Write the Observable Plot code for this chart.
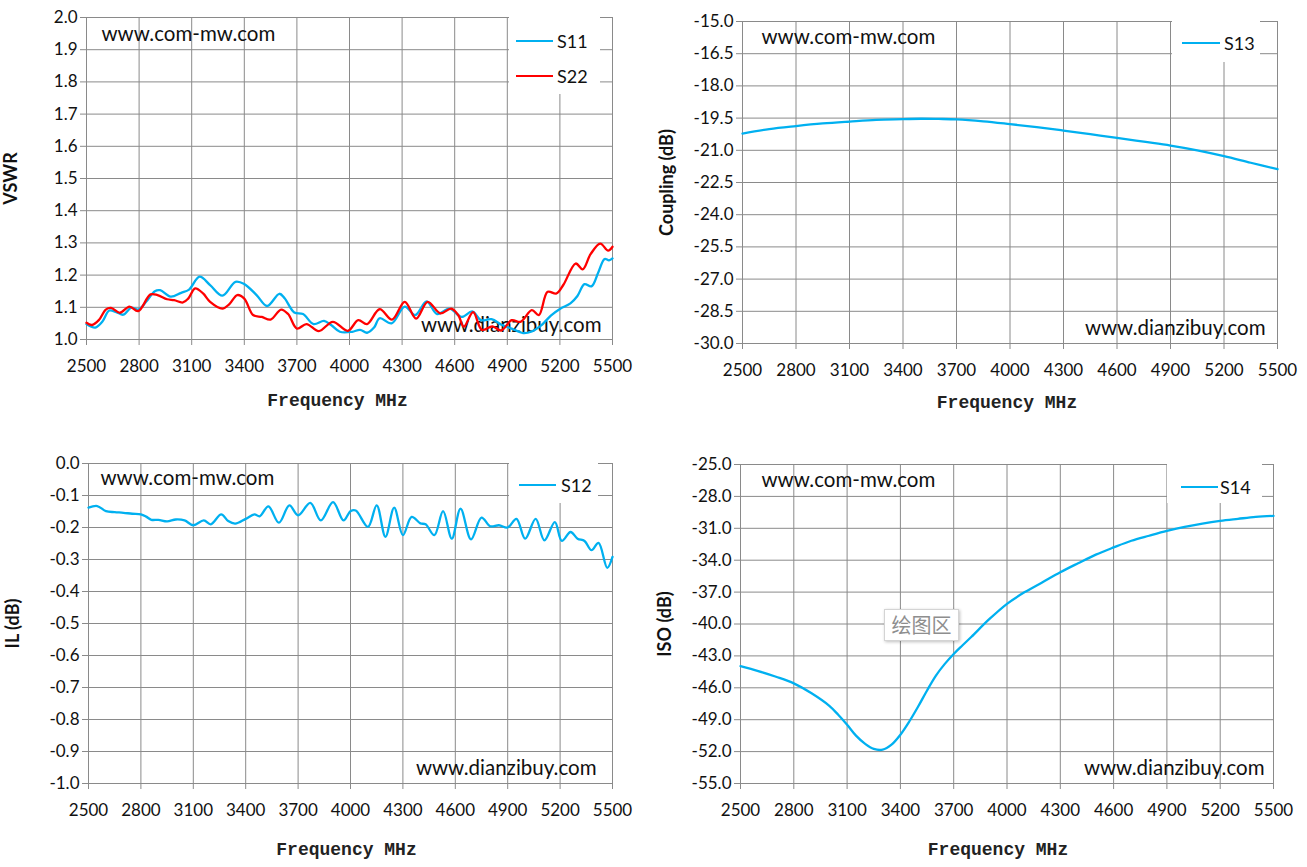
<!DOCTYPE html>
<html>
<head>
<meta charset="utf-8">
<script src="https://cdn.jsdelivr.net/npm/d3@7"></script>
<script src="https://cdn.jsdelivr.net/npm/@observablehq/plot@0.6"></script>
<style>
  html, body { margin: 0; padding: 0; background: #fff; }
  #page { position: relative; width: 1307px; height: 867px; overflow: hidden; background: #fff; font-family: Lato, "Open Sans", sans-serif; }
  .panel { position: absolute; }
  .legend { position: absolute; background: #fff; }
  .legend .sw { position: absolute; height: 2.4px; }
  .legend .lab { position: absolute; font-family: Lato, sans-serif; font-size: 18px; color: #111; line-height: 20px; }
  #tip { position: absolute; left: 884px; top: 609px; width: 73px; height: 30px; background: #fff; border: 1px solid #d4d4d4; box-shadow: 1px 1px 3px rgba(0,0,0,0.25); font-family: "Noto Sans CJK SC", sans-serif; font-size: 20px; color: #8e8e8e; line-height: 30px; text-align: center; }
</style>
</head>
<body>
<div id="page"></div>
<script>
// ---------- data ----------
const xTicks = [2500, 2800, 3100, 3400, 3700, 4000, 4300, 4600, 4900, 5200, 5500];
const vswrTicks = [1.0, 1.1, 1.2, 1.3, 1.4, 1.5, 1.6, 1.7, 1.8, 1.9, 2.0];
const couplingTicks = [-30.0, -28.5, -27.0, -25.5, -24.0, -22.5, -21.0, -19.5, -18.0, -16.5, -15.0];
const ilTicks = [-1.0, -0.9, -0.8, -0.7, -0.6, -0.5, -0.4, -0.3, -0.2, -0.1, 0.0];
const isoTicks = [-55.0, -52.0, -49.0, -46.0, -43.0, -40.0, -37.0, -34.0, -31.0, -28.0, -25.0];

const s11Freq = [2500,2550,2590,2630,2670,2710,2755,2795,2840,2890,2920,2980,3040,3085,3145,3205,3275,3350,3400,3470,3530,3600,3630,3685,3735,3795,3855,3895,3945,4015,4060,4100,4140,4172,4240,4315,4375,4440,4500,4570,4640,4700,4750,4810,4870,4925,4990,5040,5090,5150,5200,5260,5300,5340,5380,5420,5455,5480,5500];
const s11Vswr = [1.048,1.037,1.055,1.090,1.085,1.077,1.099,1.093,1.117,1.150,1.153,1.133,1.145,1.155,1.195,1.169,1.136,1.179,1.172,1.138,1.104,1.142,1.128,1.084,1.079,1.048,1.058,1.045,1.024,1.024,1.030,1.021,1.037,1.066,1.050,1.102,1.076,1.118,1.079,1.096,1.070,1.087,1.060,1.063,1.045,1.034,1.020,1.025,1.042,1.075,1.095,1.112,1.135,1.172,1.165,1.210,1.250,1.246,1.252];

const s22Freq = [2500,2530,2570,2610,2640,2690,2745,2795,2865,2905,2960,3000,3050,3080,3120,3165,3205,3275,3315,3360,3400,3450,3500,3550,3610,3650,3700,3755,3825,3905,3990,4050,4100,4172,4243,4315,4380,4446,4518,4580,4620,4652,4705,4755,4815,4865,4925,4975,5040,5080,5130,5180,5220,5290,5330,5375,5430,5475,5500];
const s22Vswr = [1.052,1.045,1.060,1.093,1.098,1.083,1.102,1.088,1.140,1.138,1.125,1.122,1.115,1.127,1.159,1.143,1.117,1.096,1.110,1.138,1.127,1.076,1.070,1.062,1.093,1.079,1.034,1.048,1.026,1.055,1.027,1.060,1.048,1.094,1.062,1.117,1.065,1.117,1.081,1.096,1.076,1.040,1.085,1.030,1.041,1.028,1.060,1.055,1.091,1.076,1.148,1.143,1.170,1.236,1.218,1.265,1.298,1.276,1.288];

const s13Freq = [2500,2650,2800,2950,3100,3250,3400,3500,3600,3700,3850,4000,4150,4300,4450,4600,4750,4900,5050,5200,5350,5500];
const s13Coupling = [-20.22,-20.01,-19.87,-19.75,-19.66,-19.58,-19.55,-19.53,-19.54,-19.56,-19.65,-19.78,-19.92,-20.08,-20.25,-20.42,-20.60,-20.78,-21.00,-21.27,-21.58,-21.88];

const s12Freq = [2500,2550,2600,2650,2700,2750,2800,2830,2860,2900,2950,3000,3050,3100,3160,3200,3260,3300,3340,3400,3450,3480,3530,3590,3650,3700,3770,3830,3900,3960,4000,4030,4100,4150,4200,4250,4300,4350,4400,4430,4480,4530,4580,4630,4690,4750,4800,4850,4900,4950,5000,5060,5110,5170,5210,5260,5300,5340,5380,5420,5470,5500];
const s12IL = [-0.138,-0.133,-0.149,-0.152,-0.154,-0.157,-0.159,-0.166,-0.176,-0.176,-0.181,-0.175,-0.178,-0.193,-0.178,-0.190,-0.159,-0.180,-0.188,-0.173,-0.159,-0.165,-0.134,-0.185,-0.131,-0.162,-0.123,-0.178,-0.121,-0.178,-0.149,-0.147,-0.198,-0.131,-0.229,-0.138,-0.224,-0.167,-0.187,-0.190,-0.224,-0.149,-0.235,-0.141,-0.237,-0.169,-0.196,-0.193,-0.200,-0.173,-0.235,-0.173,-0.240,-0.183,-0.242,-0.214,-0.235,-0.242,-0.271,-0.248,-0.326,-0.292];

const s14Freq = [2500,2600,2700,2800,2900,3000,3050,3100,3150,3200,3250,3300,3350,3400,3450,3500,3550,3600,3650,3700,3750,3800,3900,4000,4100,4200,4300,4400,4500,4600,4700,4800,4900,5000,5100,5200,5300,5400,5500];
const s14Iso = [-43.96,-44.43,-44.96,-45.58,-46.52,-47.70,-48.54,-49.48,-50.50,-51.25,-51.75,-51.82,-51.35,-50.41,-49.17,-47.76,-46.25,-44.85,-43.75,-42.82,-42.00,-41.20,-39.55,-38.10,-37.00,-36.07,-35.13,-34.29,-33.48,-32.80,-32.17,-31.70,-31.25,-30.86,-30.55,-30.30,-30.11,-29.93,-29.83];

const sites = ["www.com-mw.com", "www.dianzibuy.com"];
const xTitle = "Frequency MHz";

// ---------- helpers ----------
const BLUE = "#00B0F0", RED = "#FF0000", GRID = "#8a8a8a";
const toRows = (fs, vs, name) => fs.map((f, i) => ({f, v: vs[i], name}));
const fmt1 = d => d.toFixed(1);

function panel(cfg) {
  const {w, h, ml, mr, mt, mb, yDomain, yTicks, yLabel, series, wm, xdx, xdy} = cfg;
  const marks = [
    Plot.gridY(yTicks, {stroke: GRID, strokeOpacity: 1, strokeWidth: 1}),
    Plot.gridX(xTicks, {stroke: GRID, strokeOpacity: 1, strokeWidth: 1}),
    Plot.axisY(yTicks, {tickFormat: fmt1, tickSize: 6, tickPadding: 3, stroke: GRID, fill: "#111", fontSize: 17, label: null}),
    Plot.axisX(xTicks, {tickFormat: d => String(d), tickSize: 6, tickPadding: 14, stroke: GRID, fill: "#111", fontSize: 17, label: null}),
    Plot.text([sites[0]], {frameAnchor: "top-left", textAnchor: "start", lineAnchor: "middle", dx: wm[0], dy: wm[1], fontSize: 20.5, fill: "#111"}),
    Plot.text([sites[1]], {frameAnchor: "bottom-right", textAnchor: "end", lineAnchor: "middle", dx: wm[2], dy: wm[3], fontSize: 20.5, fill: "#111"}),
    Plot.text([yLabel], {frameAnchor: "left", rotate: -90, dx: -75, fontWeight: "bold", fontSize: 18, fill: "#111", textAnchor: "middle", lineAnchor: "middle"}),
    Plot.text([xTitle], {frameAnchor: "bottom", dx: xdx, dy: xdy, lineAnchor: "middle", fontFamily: "'Liberation Mono', monospace", fontWeight: "bold", fontSize: 18, fill: "#222"})
  ];
  for (const s of series) {
    marks.push(Plot.line(s.rows, {x: "f", y: "v", stroke: s.color, strokeWidth: 2.3, curve: "catmull-rom"}));
  }
  return Plot.plot({
    width: w, height: h,
    marginLeft: ml, marginRight: mr, marginTop: mt, marginBottom: mb,
    x: {domain: [2500, 5500]},
    y: {domain: yDomain},
    style: {fontFamily: "Lato, 'Open Sans', sans-serif", fontSize: "17px", background: "transparent", overflow: "visible", color: "#111"},
    marks
  });
}

const page = document.getElementById("page");
function place(el, left, top) {
  const d = document.createElement("div");
  d.className = "panel";
  d.style.left = left + "px"; d.style.top = top + "px";
  d.appendChild(el);
  page.appendChild(d);
}
function legend(box, items) {
  const d = document.createElement("div");
  d.className = "legend";
  d.style.left = box[0] + "px"; d.style.top = box[1] + "px";
  d.style.width = (box[2] - box[0]) + "px"; d.style.height = (box[3] - box[1]) + "px";
  for (const it of items) {
    const sw = document.createElement("div");
    sw.className = "sw";
    sw.style.left = (it.x0 - box[0]) + "px"; sw.style.width = (it.x1 - it.x0) + "px";
    sw.style.top = (it.y - box[1] - 1.2) + "px"; sw.style.background = it.color;
    const lab = document.createElement("div");
    lab.className = "lab";
    lab.textContent = it.name;
    lab.style.left = (it.tx - box[0]) + "px"; lab.style.top = (it.y - box[1] - 10) + "px";
    d.appendChild(sw); d.appendChild(lab);
  }
  page.appendChild(d);
}

// Panel 1: VSWR
place(panel({
  w: 650, h: 430, ml: 86, mr: 38, mt: 17, mb: 91,
  yDomain: [1.0, 2.0], yTicks: vswrTicks, yLabel: "VSWR",
  series: [{rows: toRows(s11Freq, s11Vswr, "S11"), color: BLUE}, {rows: toRows(s22Freq, s22Vswr, "S22"), color: RED}],
  wm: [15, 17, -11, -14], xdx: -12, xdy: 61
}), 0, 0);
legend([509, 17, 600, 94], [
  {name: "S11", color: BLUE, x0: 516, x1: 553, tx: 557, y: 41},
  {name: "S22", color: RED, x0: 516, x1: 553, tx: 557, y: 76}
]);

// Panel 2: Coupling
place(panel({
  w: 657, h: 430, ml: 92, mr: 30, mt: 21, mb: 87,
  yDomain: [-30, -15], yTicks: couplingTicks, yLabel: "Coupling (dB)",
  series: [{rows: toRows(s13Freq, s13Coupling, "S13"), color: BLUE}],
  wm: [19, 16, -12, -15], xdx: -3, xdy: 59
}), 650, 0);
legend([1172, 21, 1260, 62], [
  {name: "S13", color: BLUE, x0: 1182, x1: 1220, tx: 1224, y: 43}
]);

// Panel 3: IL
place(panel({
  w: 650, h: 437, ml: 88, mr: 38, mt: 33, mb: 84,
  yDomain: [-1.0, 0.0], yTicks: ilTicks, yLabel: "IL (dB)",
  series: [{rows: toRows(s12Freq, s12IL, "S12"), color: BLUE}],
  wm: [12, 15, -16, -15], xdx: -4, xdy: 66
}), 0, 430);
legend([509, 463, 598, 503], [
  {name: "S12", color: BLUE, x0: 519, x1: 556, tx: 561, y: 485}
]);

// Panel 4: ISO
place(panel({
  w: 657, h: 437, ml: 90, mr: 34, mt: 34, mb: 84,
  yDomain: [-55, -25], yTicks: isoTicks, yLabel: "ISO (dB)",
  series: [{rows: toRows(s14Freq, s14Iso, "S14"), color: BLUE}],
  wm: [21, 16, -9, -15], xdx: -9, xdy: 66
}), 650, 430);
legend([1167, 464, 1262, 503], [
  {name: "S14", color: BLUE, x0: 1181, x1: 1218, tx: 1220, y: 487}
]);

const tip = document.createElement("div");
tip.id = "tip";
tip.textContent = "绘图区";
page.appendChild(tip);
</script>
</body>
</html>
